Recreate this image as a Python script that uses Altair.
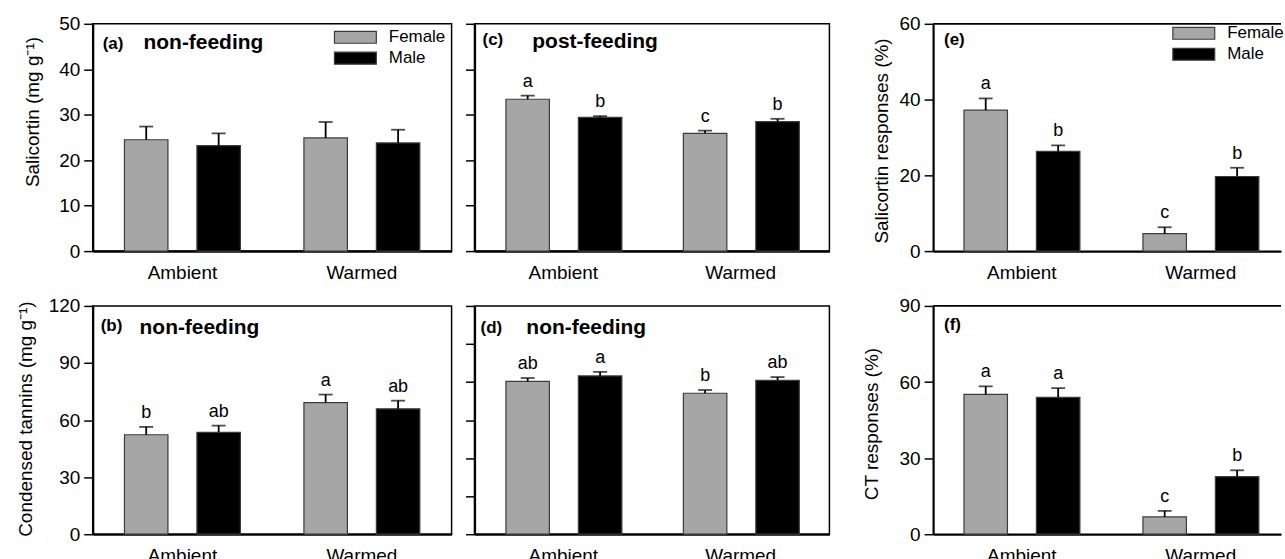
import altair as alt
import pandas as pd

FONT = "Liberation Sans"

treatments = ["Ambient", "Warmed"]
sexes = ["Female", "Male"]
bar_colors = ["#a6a6a6", "#000000"]

# bar order: Ambient-Female, Ambient-Male, Warmed-Female, Warmed-Male
a_means = [24.5, 23.2, 24.9, 23.8]
a_tops = [27.4, 25.9, 28.4, 26.7]
a_letters = ["", "", "", ""]

c_means = [33.4, 29.4, 25.9, 28.5]
c_tops = [34.2, 29.7, 26.5, 29.1]
c_letters = ["a", "b", "c", "b"]

e_means = [37.2, 26.3, 4.6, 19.7]
e_tops = [40.3, 27.9, 6.3, 22.0]
e_letters = ["a", "b", "c", "b"]

b_means = [52.3, 53.6, 69.2, 65.9]
b_tops = [56.4, 57.1, 73.4, 70.2]
b_letters = ["b", "ab", "a", "ab"]

d_means = [80.3, 83.2, 74.1, 80.9]
d_tops = [82.1, 85.3, 75.8, 82.6]
d_letters = ["ab", "a", "b", "ab"]

f_means = [55.1, 54.0, 6.8, 22.7]
f_tops = [58.3, 57.6, 9.2, 25.2]
f_letters = ["a", "a", "c", "b"]

panel_ids = ["(a)", "(b)", "(c)", "(d)", "(e)", "(f)"]
panel_conditions = ["non-feeding", "non-feeding", "post-feeding", "non-feeding", "", ""]
y_titles = ["Salicortin (mg g⁻¹)", "Condensed tannins (mg g⁻¹)",
            "Salicortin responses (%)", "CT responses (%)"]
y_ticks_a = [0, 10, 20, 30, 40, 50]
y_ticks_b = [0, 30, 60, 90, 120]
y_ticks_d = [0, 20, 40, 60, 80, 100, 120]
y_ticks_e = [0, 20, 40, 60]
y_ticks_f = [0, 30, 60, 90]

RIGHT_W = 349  # right-hand panels run off the picture's right edge


def make_legend(lx, ly):
    # wide flat rectangle drawn from a small nominal symbol size
    return alt.Legend(orient="none", legendX=lx, legendY=ly, title=None,
                      symbolType="M-3.5,-1H3.5V1H-3.5Z", symbolSize=144,
                      symbolStrokeColor="#3c3c3c", symbolStrokeWidth=1.2,
                      symbolOpacity=1, labelFontSize=17, labelFont=FONT,
                      labelColor="black", labelOffset=25, rowPadding=3, padding=0)


def make_panel(means, tops, letters, pid, cond, ydomain, yticks, ytitle,
               title_x, title_y, width, height, id_pos, cond_pos, legend=None,
               open_right=False):
    df = pd.DataFrame({
        "treatment": [t for t in treatments for _ in sexes],
        "sex": [s for _ in treatments for s in sexes],
        "mean": means, "top": tops, "letter": letters,
    })
    if open_right:
        xsc = alt.Scale(paddingInner=0.354, paddingOuter=0.149, align=0.579)
    else:
        xsc = alt.Scale(paddingInner=0.354, paddingOuter=0.177)
    x = alt.X("treatment:N", sort=treatments, scale=xsc,
              axis=alt.Axis(title=None, labelAngle=0, ticks=False, domainWidth=2.2,
                            labelFontSize=19, labelPadding=12))
    xo = alt.XOffset("sex:N", sort=sexes,
                     scale=alt.Scale(paddingInner=0.4, paddingOuter=0))
    axis_kw = dict(values=yticks, grid=False, tickSize=9, tickWidth=1.5,
                   domainWidth=2.2, labelFontSize=19, labelPadding=4)
    if ytitle:
        axis_kw.update(title=ytitle, titleX=title_x, titleY=title_y,
                       titleAlign="center", titleAngle=270, titleBaseline="bottom",
                       titleFontSize=19, titleFontWeight="normal")
    else:
        axis_kw.update(labels=False, title=None, minExtent=0)
    ysc = alt.Scale(domain=ydomain, nice=False)
    ym = alt.Y("mean:Q", scale=ysc, axis=alt.Axis(**axis_kw))
    yt = alt.Y("top:Q", scale=ysc, axis=alt.Axis(**axis_kw))
    color = alt.Color("sex:N", sort=sexes,
                      scale=alt.Scale(domain=sexes, range=bar_colors),
                      legend=legend)
    base = alt.Chart(df)
    bars = base.mark_bar(stroke="#3c3c3c", strokeWidth=1.2).encode(x=x, xOffset=xo, y=ym, color=color)
    err = base.mark_rule(color="black", strokeWidth=1.8).encode(x=x, xOffset=xo, y=ym, y2="top:Q")
    caps = base.mark_tick(color="black", size=14, thickness=1.8).encode(x=x, xOffset=xo, y=yt)
    lets = base.mark_text(fontSize=18, dy=-14, baseline="middle", color="black").encode(
        x=x, xOffset=xo, y=yt, text="letter:N")
    lab_df = pd.DataFrame({"pid": [pid], "cond": [cond]})
    id_text = alt.Chart(lab_df).mark_text(align="left", baseline="middle", fontSize=17,
                                          fontWeight="bold", color="black").encode(
        x=alt.value(id_pos[0]), y=alt.value(id_pos[1]), text="pid:N")
    layers = [bars, err, caps, lets, id_text]
    if cond:
        cond_text = alt.Chart(lab_df).mark_text(align="left", baseline="middle", fontSize=21,
                                                fontWeight="bold", color="black").encode(
            x=alt.value(cond_pos[0]), y=alt.value(cond_pos[1]), text="cond:N")
        layers.append(cond_text)
    if open_right:
        top_line = alt.Chart(lab_df).mark_rule(color="black", strokeWidth=1.8).encode(
            x=alt.value(0), x2=alt.value(width), y=alt.value(0))
        layers.append(top_line)
        return alt.layer(*layers).properties(
            width=width, height=height, view=alt.ViewBackground(stroke="transparent"))
    return alt.layer(*layers).properties(width=width, height=height)


pa = make_panel(a_means, a_tops, a_letters, panel_ids[0], panel_conditions[0], [0, 50], y_ticks_a,
                y_titles[0], -50, 88, 360, 228, (10, 20), (51, 19), make_legend(255, 5))
pc = make_panel(c_means, c_tops, c_letters, panel_ids[2], panel_conditions[2], [0, 50], y_ticks_a,
                None, 0, 0, 356, 228, (8, 16), (58, 18.5))
pe = make_panel(e_means, e_tops, e_letters, panel_ids[4], panel_conditions[4], [0, 60], y_ticks_e,
                y_titles[2], -42, 117, RIGHT_W, 228, (11, 16.5), (0, 0), make_legend(253, 1),
                open_right=True)
pb = make_panel(b_means, b_tops, b_letters, panel_ids[1], panel_conditions[1], [0, 120], y_ticks_b,
                y_titles[1], -57, 113, 360, 229, (8, 20), (47, 21.7))
pd_ = make_panel(d_means, d_tops, d_letters, panel_ids[3], panel_conditions[3], [0, 120], y_ticks_d,
                 None, 0, 0, 356, 229, (6, 21.7), (52, 21.7))
pf = make_panel(f_means, f_tops, f_letters, panel_ids[5], panel_conditions[5], [0, 90], y_ticks_f,
                y_titles[3], -52, 118, RIGHT_W, 229, (11, 19.5), (0, 0), open_right=True)


def spacer(w, h):
    return alt.Chart(pd.DataFrame({"v": [0]})).mark_point(opacity=0).encode(
        x=alt.value(0), y=alt.value(0)).properties(
        width=w, height=h, view=alt.ViewBackground(stroke="transparent"))


cells = [pa, pc, spacer(58, 228), pe, pb, pd_, spacer(58, 229), pf]
chart = alt.concat(*cells, columns=4, spacing={"row": 55, "column": 23},
                   bounds="flush", align="each")
chart = chart.resolve_scale(color="independent").resolve_legend(color="independent")
chart = chart.properties(padding={"left": 16, "top": 13, "right": 0, "bottom": 0},
                         background="white")
chart = chart.configure_view(stroke="black", strokeWidth=1.5).configure_axis(
    labelFont=FONT, titleFont=FONT, labelColor="black", titleColor="black",
    domainColor="black", tickColor="black").configure_text(font=FONT)

chart.save("out.html", embed_options={"renderer": "svg", "actions": False})
